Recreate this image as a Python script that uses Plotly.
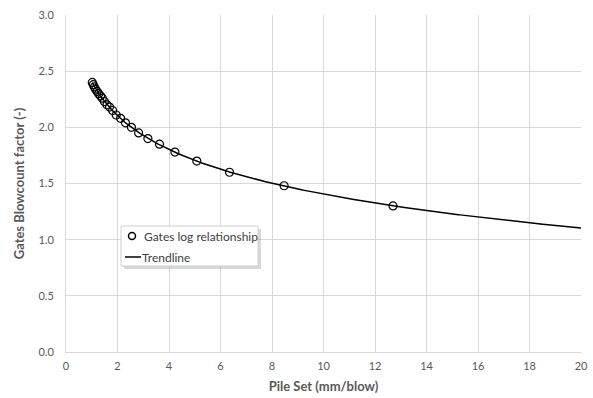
import numpy as np
import plotly.graph_objects as go

# Pile set (mm/blow) and Gates blowcount factor (-)
pile_set = [12.70, 8.47, 6.35, 5.08, 4.23, 3.63, 3.18, 2.82, 2.54, 2.31, 2.12, 1.95,
            1.81, 1.69, 1.59, 1.49, 1.41, 1.34, 1.27, 1.21, 1.15, 1.10, 1.06, 1.02]
gates_factor = [1.30, 1.48, 1.60, 1.70, 1.78, 1.85, 1.90, 1.95, 2.00, 2.04, 2.08, 2.11,
                2.15, 2.18, 2.20, 2.23, 2.26, 2.28, 2.30, 2.32, 2.34, 2.36, 2.38, 2.40]

x_ticks = [0, 2, 4, 6, 8, 10, 12, 14, 16, 18, 20]
y_ticks = [0.0, 0.5, 1.0, 1.5, 2.0, 2.5, 3.0]
legend_labels = ["Gates log relationship", "Trendline"]

# Logarithmic trendline fitted to the data (as Excel does), extended to x = 20
coef = np.polyfit(np.log(pile_set), gates_factor, 1)
tx = np.linspace(min(pile_set), 20, 300)
ty = coef[0] * np.log(tx) + coef[1]

grey = "#595959"
grid = "#d9d9d9"
font_family = "Lato, 'Open Sans', sans-serif"

W, H = 593, 398
ML, MR, MT, MB = 66, 12, 15, 46
PW, PH = W - ML - MR, H - MT - MB


def px(x):
    return (x - ML) / PW


def py(y):
    return (H - MB - y) / PH


fig = go.Figure()
fig.add_trace(go.Scatter(
    x=pile_set, y=gates_factor, mode="markers", name=legend_labels[0],
    marker=dict(symbol="circle-open", size=8, color="black", line=dict(width=1.2, color="black")),
    showlegend=False,
))
fig.add_trace(go.Scatter(
    x=tx, y=ty, mode="lines", name=legend_labels[1],
    line=dict(color="black", width=1.5), showlegend=False,
))

# Manual legend (Excel-style box with shadow)
bx0, bx1, by0, by1 = 121, 258, 226, 266
shapes = [
    dict(type="rect", xref="paper", yref="paper",
         x0=px(bx0 + 3), x1=px(bx1 + 3), y0=py(by1 + 3), y1=py(by0 + 3),
         fillcolor="rgba(0,0,0,0.15)", line=dict(width=0), layer="above"),
    dict(type="rect", xref="paper", yref="paper",
         x0=px(bx0), x1=px(bx1), y0=py(by1), y1=py(by0),
         fillcolor="white", line=dict(width=1, color="#d0d0d0"), layer="above"),
    dict(type="circle", xref="paper", yref="paper",
         x0=px(132 - 3.5), x1=px(132 + 3.5), y0=py(236 + 3.5), y1=py(236 - 3.5),
         line=dict(width=1.5, color="black"), fillcolor="white", layer="above"),
    dict(type="line", xref="paper", yref="paper",
         x0=px(125), x1=px(141), y0=py(257), y1=py(257),
         line=dict(width=1.5, color="black"), layer="above"),
]
annotations = [
    dict(text=legend_labels[0], xref="paper", yref="paper", x=px(142), y=py(236),
         xanchor="left", yanchor="middle", showarrow=False,
         font=dict(size=12, color="#404040", family=font_family)),
    dict(text=legend_labels[1], xref="paper", yref="paper", x=px(140), y=py(257),
         xanchor="left", yanchor="middle", showarrow=False,
         font=dict(size=12, color="#404040", family=font_family)),
]

fig.update_layout(
    width=W, height=H,
    margin=dict(l=ML, r=MR, t=MT, b=MB),
    paper_bgcolor="white", plot_bgcolor="white",
    font=dict(family=font_family, size=11, color=grey),
    showlegend=False,
    shapes=shapes, annotations=annotations,
    xaxis=dict(range=[0, 20], tickvals=x_ticks, showgrid=True, gridcolor=grid, gridwidth=1,
               showline=True, linecolor=grid, zeroline=False, ticks="", automargin=False,
               ticklabelstandoff=4,
               title=dict(text="<b>Pile Set (mm/blow)</b>", font=dict(size=13, color=grey), standoff=10)),
    yaxis=dict(range=[0, 3], tickvals=y_ticks, tickformat=".1f", showgrid=True, gridcolor=grid,
               gridwidth=1, showline=True, linecolor=grid, zeroline=False, ticks="", automargin=False,
               ticklabelstandoff=9,
               title=dict(text="<b>Gates Blowcount factor (-)</b>", font=dict(size=13, color=grey), standoff=10)),
)

fig.write_html("out.html")
